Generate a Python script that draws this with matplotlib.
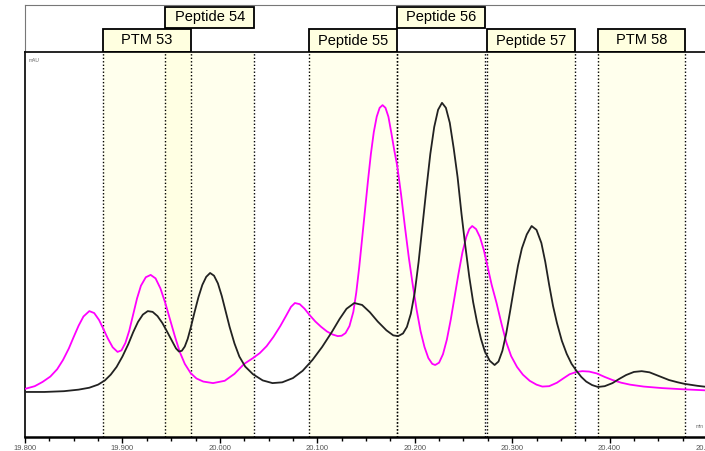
import matplotlib.pyplot as plt
from matplotlib.patches import Rectangle
from matplotlib.ticker import MultipleLocator, FormatStrFormatter

# retention time (min) / absorbance (mAU) for the two overlaid traces
time_a = [19.800, 19.820, 19.840, 19.855, 19.866, 19.875, 19.882, 19.888, 19.894,
          19.900, 19.906, 19.911, 19.916, 19.921, 19.926, 19.931, 19.936, 19.941,
          19.946, 19.951, 19.955, 19.958, 19.961, 19.964, 19.967, 19.970, 19.974,
          19.978, 19.982, 19.986, 19.990, 19.994, 19.998, 20.002, 20.006, 20.010,
          20.015, 20.020, 20.026, 20.034, 20.044, 20.054, 20.064, 20.075, 20.085,
          20.095, 20.105, 20.115, 20.123, 20.130, 20.138, 20.146, 20.154, 20.162,
          20.171, 20.178, 20.183, 20.188, 20.192, 20.196, 20.200, 20.204, 20.208,
          20.212, 20.216, 20.220, 20.224, 20.228, 20.232, 20.236, 20.240, 20.244,
          20.248, 20.252, 20.256, 20.260, 20.264, 20.268, 20.272, 20.277, 20.282,
          20.286, 20.290, 20.294, 20.298, 20.302, 20.306, 20.310, 20.315, 20.320,
          20.325, 20.330, 20.334, 20.338, 20.342, 20.346, 20.351, 20.356, 20.361,
          20.366, 20.371, 20.376, 20.382, 20.388, 20.395, 20.403, 20.410, 20.417,
          20.425, 20.433, 20.441, 20.448, 20.455, 20.461, 20.470, 20.477, 20.490,
          20.500]
trace_a = [11.7, 11.7, 11.9, 12.3, 12.8, 13.6, 14.7, 16.2, 18.2,
           20.9, 24.1, 27.2, 29.9, 31.8, 32.7, 32.5, 31.4, 29.6,
           27.3, 24.9, 23.0, 22.2, 22.4, 23.5, 25.5, 28.3, 32.4,
           36.3, 39.5, 41.6, 42.6, 41.9, 39.9, 36.6, 32.6, 28.6,
           24.3, 20.9, 18.3, 16.3, 14.7, 14.0, 14.2, 15.3, 17.2,
           20.0, 23.4, 27.3, 30.7, 33.3, 34.8, 34.3, 32.4, 30.0,
           27.7, 26.4, 26.2, 26.9, 28.6, 32.0, 37.5, 45.5, 55.0,
           64.5, 73.5, 80.5, 85.0, 86.8, 85.5, 81.6, 75.0, 67.5,
           58.0, 49.5, 41.6, 35.0, 29.8, 25.5, 22.2, 19.8, 18.7,
           19.6, 22.4, 27.0, 32.8, 38.8, 44.5, 49.0, 52.6, 54.8,
           53.8, 50.4, 45.5, 39.5, 34.0, 29.6, 25.0, 21.6, 19.0,
           17.2, 15.6, 14.4, 13.5, 13.0, 13.2, 14.0, 15.1, 16.1,
           16.9, 17.1, 16.8, 16.1, 15.4, 14.8, 14.2, 13.8, 13.3,
           13.0]

time_b = [19.800, 19.810, 19.818, 19.826, 19.833, 19.839, 19.845, 19.850, 19.855,
          19.860, 19.866, 19.871, 19.876, 19.880, 19.885, 19.890, 19.895, 19.899,
          19.903, 19.907, 19.911, 19.915, 19.919, 19.924, 19.929, 19.934, 19.939,
          19.944, 19.949, 19.954, 19.959, 19.964, 19.970, 19.976, 19.983, 19.993,
          20.005, 20.015, 20.025, 20.034, 20.041, 20.048, 20.055, 20.062, 20.068,
          20.073, 20.077, 20.082, 20.087, 20.092, 20.098, 20.104, 20.110, 20.116,
          20.121, 20.125, 20.129, 20.133, 20.137, 20.140, 20.143, 20.146, 20.149,
          20.152, 20.155, 20.158, 20.161, 20.164, 20.167, 20.170, 20.173, 20.176,
          20.179, 20.182, 20.186, 20.190, 20.194, 20.198, 20.202, 20.206, 20.210,
          20.214, 20.218, 20.221, 20.225, 20.229, 20.233, 20.237, 20.241, 20.245,
          20.249, 20.253, 20.256, 20.259, 20.263, 20.267, 20.271, 20.275, 20.279,
          20.284, 20.289, 20.294, 20.299, 20.305, 20.311, 20.318, 20.325, 20.331,
          20.338, 20.346, 20.353, 20.359, 20.366, 20.372, 20.379, 20.387, 20.395,
          20.403, 20.412, 20.421, 20.435, 20.454, 20.475, 20.500]
trace_b = [12.5, 13.2, 14.3, 15.7, 17.6, 20.0, 23.0, 26.0, 28.9,
           31.3, 32.7, 32.2, 30.4, 28.3, 25.6, 23.3, 22.1, 22.5,
           24.4, 27.6, 31.8, 36.0, 39.3, 41.5, 42.1, 41.2, 38.6,
           34.8, 30.4, 26.0, 22.0, 19.0, 16.6, 15.2, 14.4, 14.0,
           14.6, 16.4, 19.0, 20.5, 21.8, 23.6, 26.0, 28.8, 31.5,
           33.8, 34.8, 34.5, 33.3, 31.7, 30.0, 28.6, 27.4, 26.6,
           26.2, 26.3, 27.0, 28.8, 32.5, 37.5, 44.0, 51.5, 59.0,
           66.5, 73.5, 79.2, 83.2, 85.5, 86.2, 85.5, 83.2, 79.0,
           74.5, 70.5, 63.0, 54.5, 46.5, 39.5, 33.0, 27.5, 23.4,
           20.5, 19.0, 18.7, 19.3, 21.5, 25.3, 30.5, 36.5, 42.5,
           48.0, 52.0, 54.0, 54.8, 54.0, 51.9, 48.5, 44.0, 39.5,
           34.8, 29.5, 24.6, 21.0, 18.2, 16.2, 14.6, 13.6, 13.1,
           13.2, 14.1, 15.3, 16.3, 16.9, 17.1, 17.0, 16.5, 15.6,
           14.8, 14.1, 13.6, 13.1, 12.7, 12.4, 12.1]

# peak windows: label, start, end, header row (0 = lower, 1 = upper)
peak_names = ["PTM 53", "Peptide 54", "Peptide 55", "Peptide 56", "Peptide 57", "PTM 58"]
peak_start = [19.880, 19.944, 20.091, 20.182, 20.274, 20.388]
peak_end = [19.970, 20.035, 20.182, 20.272, 20.365, 20.477]
peak_row = [0, 1, 0, 1, 0, 0]

W, H = 705, 451
fig = plt.figure(figsize=(W / 100, H / 100), dpi=100)
plt.rcParams['font.family'] = ['Liberation Sans', 'DejaVu Sans']

left = 25 / W
right = 707 / W
ax = fig.add_axes([left, (H - 437) / H, right - left, (437 - 52) / H])
hdr = fig.add_axes([left, (H - 52) / H, right - left, 47 / H], sharex=ax)

ax.set_xlim(19.8, 20.5)
ax.set_ylim(0, 100)

# shaded peak windows and their boundaries
for s, e in zip(peak_start, peak_end):
    ax.axvspan(s, e, color='#ffffd8', alpha=0.45, lw=0, zorder=0)
    for x in (s, e):
        ax.axvline(x, color='black', ls=(0, (1, 1.5)), lw=1.0, zorder=1)

ax.plot(time_b, trace_b, color='#ff00ff', lw=1.3, zorder=3)
ax.plot(time_a, trace_a, color='#222222', lw=1.3, zorder=4)

ax.spines['top'].set_visible(False)
ax.spines['right'].set_visible(False)
ax.spines['left'].set_linewidth(1.2)
ax.spines['bottom'].set_linewidth(1.8)
ax.set_yticks([])
ax.xaxis.set_major_locator(MultipleLocator(0.1))
ax.xaxis.set_minor_locator(MultipleLocator(0.025))
ax.xaxis.set_major_formatter(FormatStrFormatter('%.3f'))
ax.tick_params(axis='x', which='major', direction='out', length=4, width=1,
               labelsize=5.5, labelcolor='#555555', pad=2)
ax.tick_params(axis='x', which='minor', direction='out', length=3, width=1)

ax.text(0.006, 0.985, 'mAU', transform=ax.transAxes, fontsize=3.5,
        color='#666666', va='top', ha='left')
ax.text(0.995, 0.02, 'min', transform=ax.transAxes, fontsize=3.5,
        color='#666666', va='bottom', ha='right')

# header strip with the peak name boxes
hdr.set_ylim(0, 1)
hdr.set_yticks([])
hdr.tick_params(axis='x', which='both', bottom=False, labelbottom=False)
hdr.spines['right'].set_visible(False)
hdr.spines['top'].set_color('#777777')
hdr.spines['left'].set_color('#777777')
hdr.spines['bottom'].set_linewidth(1.2)

row_y = [(0.0, 23 / 47), (24 / 47, 21 / 47)]
for name, s, e, r in zip(peak_names, peak_start, peak_end, peak_row):
    y0, h = row_y[r]
    hdr.add_patch(Rectangle((s, y0), e - s, h, facecolor='#ffffe0',
                            edgecolor='black', lw=1.3, zorder=2))
    hdr.text((s + e) / 2, y0 + h / 2, name, ha='center', va='center',
             fontsize=10.5, color='black', zorder=3)

fig.savefig('out.png', dpi=100)
